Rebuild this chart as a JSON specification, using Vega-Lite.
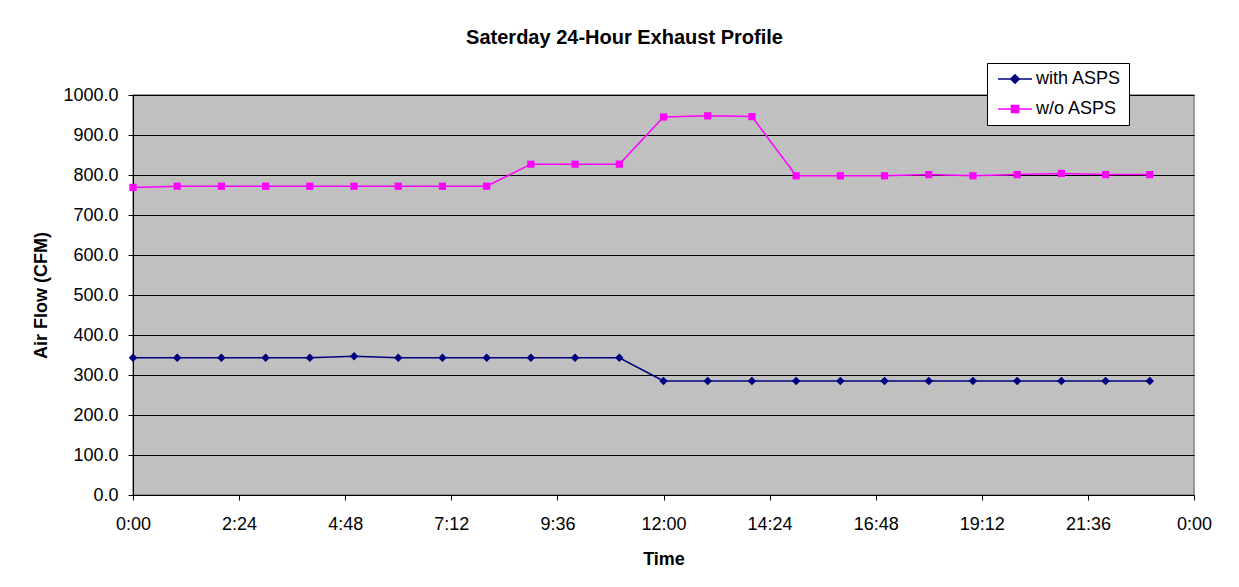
{
  "$schema": "https://vega.github.io/schema/vega-lite/v6.json",
  "width": 1061,
  "height": 400,
  "autosize": "none",
  "padding": {"left": 133, "top": 95, "right": 45, "bottom": 92},
  "background": "white",
  "title": {
    "text": "Saterday 24-Hour Exhaust Profile",
    "font": "Liberation Sans",
    "fontSize": 20,
    "fontWeight": "bold",
    "color": "black",
    "anchor": "middle",
    "dx": -39,
    "offset": 15
  },
  "config": {
    "view": {"fill": "#C0C0C0", "stroke": "#808080", "strokeWidth": 1.5},
    "font": "Liberation Sans",
    "axis": {
      "labelFont": "Liberation Sans",
      "labelFontSize": 18,
      "labelColor": "black",
      "titleFont": "Liberation Sans",
      "titleFontSize": 18,
      "titleFontWeight": "bold",
      "titleColor": "black",
      "domainColor": "black",
      "domainWidth": 1,
      "tickColor": "black",
      "tickSize": 5,
      "tickWidth": 1
    },
    "legend": {
      "labelFont": "Liberation Sans",
      "labelFontSize": 18,
      "labelColor": "black"
    }
  },
  "data": {
    "values": [
      {"hour": 0, "series": "with ASPS", "cfm": 343},
      {"hour": 1, "series": "with ASPS", "cfm": 343},
      {"hour": 2, "series": "with ASPS", "cfm": 343},
      {"hour": 3, "series": "with ASPS", "cfm": 343},
      {"hour": 4, "series": "with ASPS", "cfm": 343},
      {"hour": 5, "series": "with ASPS", "cfm": 347},
      {"hour": 6, "series": "with ASPS", "cfm": 343},
      {"hour": 7, "series": "with ASPS", "cfm": 343},
      {"hour": 8, "series": "with ASPS", "cfm": 343},
      {"hour": 9, "series": "with ASPS", "cfm": 343},
      {"hour": 10, "series": "with ASPS", "cfm": 343},
      {"hour": 11, "series": "with ASPS", "cfm": 343},
      {"hour": 12, "series": "with ASPS", "cfm": 285},
      {"hour": 13, "series": "with ASPS", "cfm": 285},
      {"hour": 14, "series": "with ASPS", "cfm": 285},
      {"hour": 15, "series": "with ASPS", "cfm": 285},
      {"hour": 16, "series": "with ASPS", "cfm": 285},
      {"hour": 17, "series": "with ASPS", "cfm": 285},
      {"hour": 18, "series": "with ASPS", "cfm": 285},
      {"hour": 19, "series": "with ASPS", "cfm": 285},
      {"hour": 20, "series": "with ASPS", "cfm": 285},
      {"hour": 21, "series": "with ASPS", "cfm": 285},
      {"hour": 22, "series": "with ASPS", "cfm": 285},
      {"hour": 23, "series": "with ASPS", "cfm": 285},
      {"hour": 0, "series": "w/o ASPS", "cfm": 769},
      {"hour": 1, "series": "w/o ASPS", "cfm": 772},
      {"hour": 2, "series": "w/o ASPS", "cfm": 772},
      {"hour": 3, "series": "w/o ASPS", "cfm": 772},
      {"hour": 4, "series": "w/o ASPS", "cfm": 772},
      {"hour": 5, "series": "w/o ASPS", "cfm": 772},
      {"hour": 6, "series": "w/o ASPS", "cfm": 772},
      {"hour": 7, "series": "w/o ASPS", "cfm": 772},
      {"hour": 8, "series": "w/o ASPS", "cfm": 772},
      {"hour": 9, "series": "w/o ASPS", "cfm": 827},
      {"hour": 10, "series": "w/o ASPS", "cfm": 827},
      {"hour": 11, "series": "w/o ASPS", "cfm": 827},
      {"hour": 12, "series": "w/o ASPS", "cfm": 945},
      {"hour": 13, "series": "w/o ASPS", "cfm": 948},
      {"hour": 14, "series": "w/o ASPS", "cfm": 946},
      {"hour": 15, "series": "w/o ASPS", "cfm": 798},
      {"hour": 16, "series": "w/o ASPS", "cfm": 798},
      {"hour": 17, "series": "w/o ASPS", "cfm": 798},
      {"hour": 18, "series": "w/o ASPS", "cfm": 801},
      {"hour": 19, "series": "w/o ASPS", "cfm": 798},
      {"hour": 20, "series": "w/o ASPS", "cfm": 801},
      {"hour": 21, "series": "w/o ASPS", "cfm": 804},
      {"hour": 22, "series": "w/o ASPS", "cfm": 801},
      {"hour": 23, "series": "w/o ASPS", "cfm": 801}
    ]
  },
  "encoding": {
    "x": {
      "field": "hour",
      "type": "quantitative",
      "scale": {"domain": [0, 24], "nice": false, "zero": false},
      "axis": {
        "title": "Time",
        "values": [0, 2.4, 4.8, 7.2, 9.6, 12, 14.4, 16.8, 19.2, 21.6, 24],
        "labelExpr": "floor(datum.value) % 24 + ':' + (round((datum.value % 1) * 60) < 10 ? '0' : '') + round((datum.value % 1) * 60)",
        "grid": false,
        "labelPadding": 15,
        "titlePadding": 17,
        "labelFlush": false
      }
    },
    "y": {
      "field": "cfm",
      "type": "quantitative",
      "scale": {"domain": [0, 1000], "nice": false},
      "axis": {
        "title": "Air Flow (CFM)",
        "values": [0, 100, 200, 300, 400, 500, 600, 700, 800, 900, 1000],
        "format": ".1f",
        "grid": true,
        "gridColor": "black",
        "gridWidth": 1,
        "gridOpacity": 1,
        "labelPadding": 10,
        "titlePadding": 12,
        "labelFlush": false
      }
    }
  },
  "layer": [
    {
      "mark": {"type": "line", "strokeWidth": 1.5},
      "encoding": {
        "detail": {"field": "series", "type": "nominal"},
        "stroke": {
          "condition": {"test": "datum.series == 'with ASPS'", "value": "#000080"},
          "value": "#FF00FF"
        }
      }
    },
    {
      "mark": {"type": "point", "filled": true, "opacity": 1, "size": 72, "strokeWidth": 0},
      "encoding": {
        "shape": {
          "condition": {"test": "datum.series == 'with ASPS'", "value": "M-1,0L0,-1L1,0L0,1Z"},
          "value": "M-0.85,-0.85H0.85V0.85H-0.85Z"
        },
        "fill": {
          "condition": {"test": "datum.series == 'with ASPS'", "value": "#000080"},
          "value": "#FF00FF"
        }
      }
    },
    {
      "mark": {"type": "point", "filled": false, "opacity": 1, "size": 0, "strokeWidth": 1.5},
      "encoding": {
        "shape": {
          "field": "series",
          "type": "nominal",
          "scale": {"domain": ["with ASPS", "w/o ASPS"], "range": ["M-4,0H4M0,-1L1,0L0,1L-1,0Z", "M-4,0H4M-0.85,-0.85H0.85V0.85H-0.85Z"]},
          "legend": {
            "title": null,
            "orient": "none",
            "legendX": 854,
            "legendY": -32,
            "fillColor": "white",
            "strokeColor": "black",
            "padding": 7,
            "cornerRadius": 0,
            "symbolSize": 72,
            "symbolStrokeWidth": 1.5,
            "symbolOffset": 12,
            "labelOffset": 12,
            "rowPadding": 12,
            "labelFontSize": 18
          }
        },
        "color": {
          "field": "series",
          "type": "nominal",
          "scale": {"domain": ["with ASPS", "w/o ASPS"], "range": ["#000080", "#FF00FF"]},
          "legend": {
            "title": null,
            "orient": "none",
            "legendX": 854,
            "legendY": -32,
            "fillColor": "white",
            "strokeColor": "black",
            "padding": 7,
            "cornerRadius": 0,
            "symbolSize": 72,
            "symbolStrokeWidth": 1.5,
            "symbolOffset": 12,
            "labelOffset": 12,
            "rowPadding": 12,
            "labelFontSize": 18
          }
        },
        "fill": {
          "field": "series",
          "type": "nominal",
          "scale": {"domain": ["with ASPS", "w/o ASPS"], "range": ["#000080", "#FF00FF"]},
          "legend": {
            "title": null,
            "orient": "none",
            "legendX": 854,
            "legendY": -32,
            "fillColor": "white",
            "strokeColor": "black",
            "padding": 7,
            "cornerRadius": 0,
            "symbolSize": 72,
            "symbolStrokeWidth": 1.5,
            "symbolOffset": 12,
            "labelOffset": 12,
            "rowPadding": 12,
            "labelFontSize": 18
          }
        }
      }
    }
  ]
}
